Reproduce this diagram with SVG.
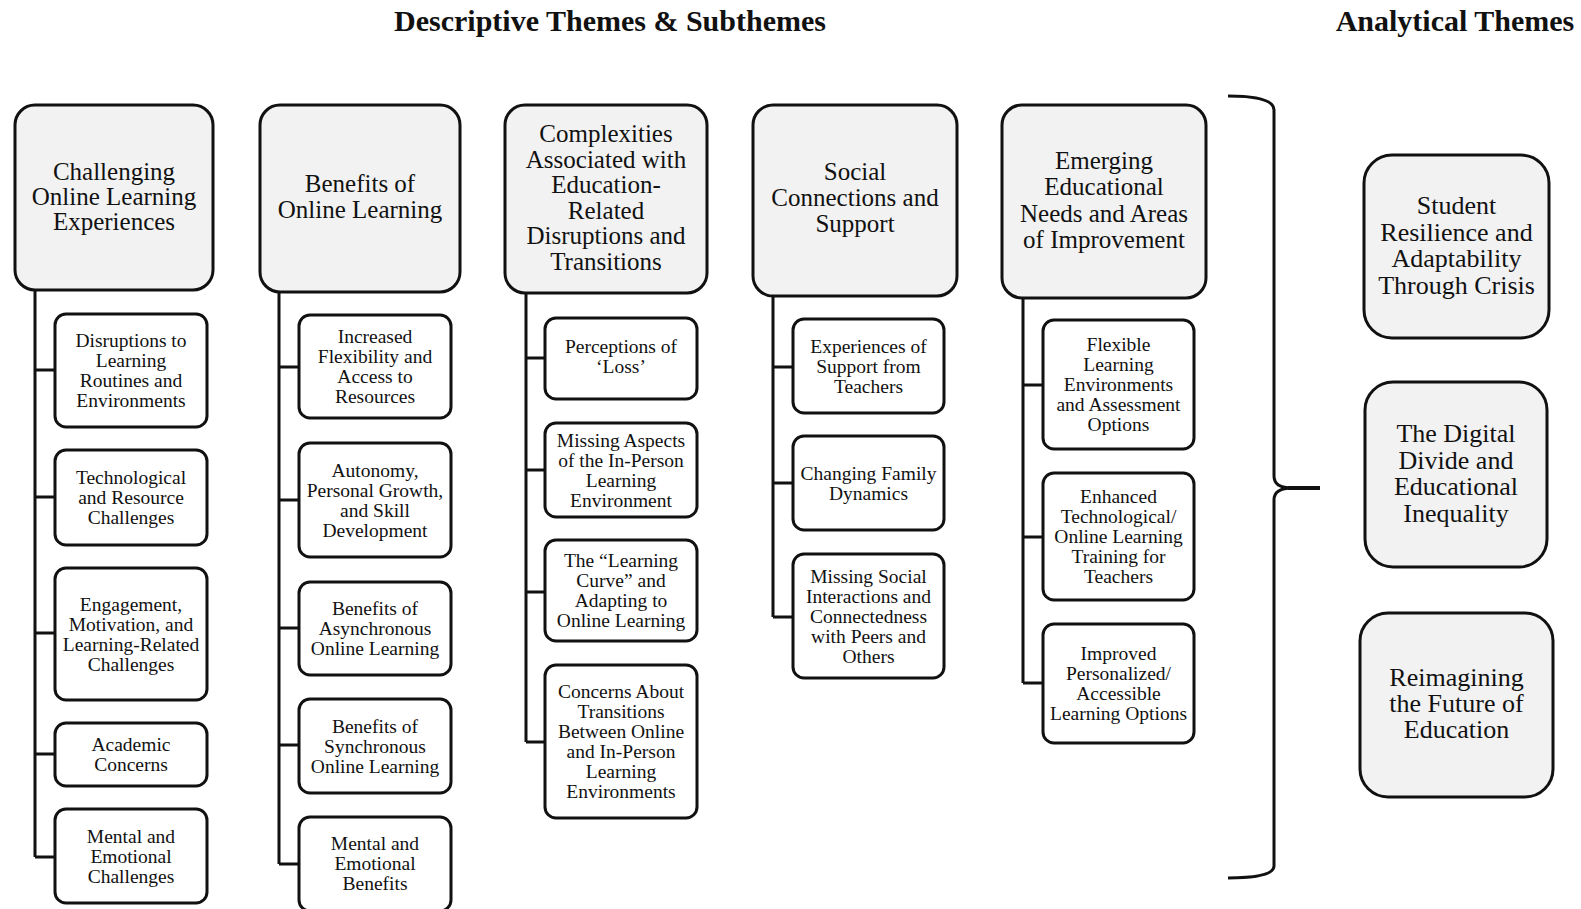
<svg xmlns="http://www.w3.org/2000/svg" width="1581" height="909" viewBox="0 0 1581 909">
<style>
text{font-family:"Liberation Serif","Times New Roman",serif;fill:#111;text-anchor:middle}
.title{font-size:30px;font-weight:bold}
.main rect{fill:#f2f2f2;stroke:#111;stroke-width:3}
.main text{font-size:25px}
.sub rect{fill:#fff;stroke:#111;stroke-width:3}
.sub text{font-size:19.5px}
.ana rect{fill:#f2f2f2;stroke:#111;stroke-width:3}
.ana text{font-size:26px}
#connectors path{fill:none;stroke:#111;stroke-width:3}
</style>
<rect width="1581" height="909" fill="#fff"/>
<text class="title" x="610" y="31">Descriptive Themes &amp; Subthemes</text>
<text class="title" x="1455" y="31">Analytical Themes</text>

<g id="connectors">
<path d="M35,290 V857 M35,370 H55 M35,497 H55 M35,633 H55 M35,754 H55 M35,857 H55"/>
<path d="M279,292 V864 M279,367 H299 M279,500 H299 M279,628 H299 M279,745 H299 M279,864 H299"/>
<path d="M526,293 V742 M526,358 H545 M526,470 H545 M526,592 H545 M526,742 H545"/>
<path d="M773,296 V617 M773,367 H793 M773,483 H793 M773,617 H793"/>
<path d="M1023,298 V683 M1023,385 H1043 M1023,537 H1043 M1023,683 H1043"/>
<path d="M1228,96 Q1274,96 1274,110 L1274,476 Q1274,488 1292,488 Q1274,488 1274,500 L1274,866 Q1274,878 1228,878"/>
<path d="M1288,488 H1320" style="stroke-width:4"/>
</g>

<g id="m1" class="main"><rect x="15" y="105" width="198" height="185" rx="20"/>
<text x="114" y="180">Challenging</text><text x="114" y="205">Online Learning</text><text x="114" y="230">Experiences</text></g>
<g id="m2" class="main"><rect x="260" y="105" width="200" height="187" rx="20"/>
<text x="360" y="192">Benefits of</text><text x="360" y="218">Online Learning</text></g>
<g id="m3" class="main"><rect x="505" y="105" width="202" height="188" rx="20"/>
<text x="606" y="142">Complexities</text><text x="606" y="167.5">Associated with</text><text x="606" y="193">Education-</text><text x="606" y="218.5">Related</text><text x="606" y="244">Disruptions and</text><text x="606" y="269.5">Transitions</text></g>
<g id="m4" class="main"><rect x="753" y="105" width="204" height="191" rx="20"/>
<text x="855" y="180">Social</text><text x="855" y="206">Connections and</text><text x="855" y="232">Support</text></g>
<g id="m5" class="main"><rect x="1002" y="105" width="204" height="193" rx="20"/>
<text x="1104" y="169">Emerging</text><text x="1104" y="195">Educational</text><text x="1104" y="222">Needs and Areas</text><text x="1104" y="248">of Improvement</text></g>

<g id="s1a" class="sub"><rect x="55" y="314" width="152" height="113" rx="11"/>
<text x="131" y="347">Disruptions to</text><text x="131" y="367">Learning</text><text x="131" y="387">Routines and</text><text x="131" y="407">Environments</text></g>
<g id="s1b" class="sub"><rect x="55" y="450" width="152" height="95" rx="11"/>
<text x="131" y="484">Technological</text><text x="131" y="504">and Resource</text><text x="131" y="524">Challenges</text></g>
<g id="s1c" class="sub"><rect x="55" y="568" width="152" height="132" rx="11"/>
<text x="131" y="610.5">Engagement,</text><text x="131" y="630.5">Motivation, and</text><text x="131" y="650.5">Learning-Related</text><text x="131" y="670.5">Challenges</text></g>
<g id="s1d" class="sub"><rect x="55" y="723" width="152" height="63" rx="11"/>
<text x="131" y="751">Academic</text><text x="131" y="771">Concerns</text></g>
<g id="s1e" class="sub"><rect x="55" y="809" width="152" height="94" rx="11"/>
<text x="131" y="843">Mental and</text><text x="131" y="863">Emotional</text><text x="131" y="883">Challenges</text></g>

<g id="s2a" class="sub"><rect x="299" y="315" width="152" height="103" rx="11"/>
<text x="375" y="343">Increased</text><text x="375" y="363">Flexibility and</text><text x="375" y="383">Access to</text><text x="375" y="403">Resources</text></g>
<g id="s2b" class="sub"><rect x="299" y="443" width="152" height="114" rx="11"/>
<text x="375" y="476.5">Autonomy,</text><text x="375" y="496.5">Personal Growth,</text><text x="375" y="516.5">and Skill</text><text x="375" y="536.5">Development</text></g>
<g id="s2c" class="sub"><rect x="299" y="582" width="152" height="93" rx="11"/>
<text x="375" y="615">Benefits of</text><text x="375" y="635">Asynchronous</text><text x="375" y="655">Online Learning</text></g>
<g id="s2d" class="sub"><rect x="299" y="699" width="152" height="94" rx="11"/>
<text x="375" y="732.5">Benefits of</text><text x="375" y="752.5">Synchronous</text><text x="375" y="772.5">Online Learning</text></g>
<g id="s2e" class="sub"><rect x="299" y="817" width="152" height="94" rx="11"/>
<text x="375" y="850">Mental and</text><text x="375" y="870">Emotional</text><text x="375" y="890">Benefits</text></g>

<g id="s3a" class="sub"><rect x="545" y="318" width="152" height="81" rx="11"/>
<text x="621" y="353">Perceptions of</text><text x="621" y="373">‘Loss’</text></g>
<g id="s3b" class="sub"><rect x="545" y="423" width="152" height="94" rx="11"/>
<text x="621" y="446.5">Missing Aspects</text><text x="621" y="466.5">of the In-Person</text><text x="621" y="486.5">Learning</text><text x="621" y="506.5">Environment</text></g>
<g id="s3c" class="sub"><rect x="545" y="540" width="152" height="101" rx="11"/>
<text x="621" y="567">The “Learning</text><text x="621" y="587">Curve” and</text><text x="621" y="607">Adapting to</text><text x="621" y="627">Online Learning</text></g>
<g id="s3d" class="sub"><rect x="545" y="665" width="152" height="153" rx="11"/>
<text x="621" y="698">Concerns About</text><text x="621" y="718">Transitions</text><text x="621" y="738">Between Online</text><text x="621" y="758">and In-Person</text><text x="621" y="778">Learning</text><text x="621" y="798">Environments</text></g>

<g id="s4a" class="sub"><rect x="793" y="319" width="151" height="94" rx="11"/>
<text x="868.5" y="352.5">Experiences of</text><text x="868.5" y="372.5">Support from</text><text x="868.5" y="392.5">Teachers</text></g>
<g id="s4b" class="sub"><rect x="793" y="436" width="151" height="94" rx="11"/>
<text x="868.5" y="479.5">Changing Family</text><text x="868.5" y="499.5">Dynamics</text></g>
<g id="s4c" class="sub"><rect x="793" y="554" width="151" height="124" rx="11"/>
<text x="868.5" y="582.5">Missing Social</text><text x="868.5" y="602.5">Interactions and</text><text x="868.5" y="622.5">Connectedness</text><text x="868.5" y="642.5">with Peers and</text><text x="868.5" y="662.5">Others</text></g>

<g id="s5a" class="sub"><rect x="1043" y="320" width="151" height="129" rx="11"/>
<text x="1118.5" y="351">Flexible</text><text x="1118.5" y="371">Learning</text><text x="1118.5" y="391">Environments</text><text x="1118.5" y="411">and Assessment</text><text x="1118.5" y="431">Options</text></g>
<g id="s5b" class="sub"><rect x="1043" y="473" width="151" height="127" rx="11"/>
<text x="1118.5" y="503">Enhanced</text><text x="1118.5" y="523">Technological/</text><text x="1118.5" y="543">Online Learning</text><text x="1118.5" y="563">Training for</text><text x="1118.5" y="583">Teachers</text></g>
<g id="s5c" class="sub"><rect x="1043" y="624" width="151" height="119" rx="11"/>
<text x="1118.5" y="660">Improved</text><text x="1118.5" y="680">Personalized/</text><text x="1118.5" y="700">Accessible</text><text x="1118.5" y="720">Learning Options</text></g>

<g id="a1" class="ana"><rect x="1364" y="155" width="185" height="183" rx="28"/>
<text x="1456.5" y="214">Student</text><text x="1456.5" y="240.5">Resilience and</text><text x="1456.5" y="267">Adaptability</text><text x="1456.5" y="293.5">Through Crisis</text></g>
<g id="a2" class="ana"><rect x="1365" y="382" width="182" height="185" rx="28"/>
<text x="1456" y="442">The Digital</text><text x="1456" y="468.5">Divide and</text><text x="1456" y="495">Educational</text><text x="1456" y="521.5">Inequality</text></g>
<g id="a3" class="ana"><rect x="1360" y="613" width="193" height="184" rx="28"/>
<text x="1456.5" y="686">Reimagining</text><text x="1456.5" y="712">the Future of</text><text x="1456.5" y="738">Education</text></g>
</svg>
